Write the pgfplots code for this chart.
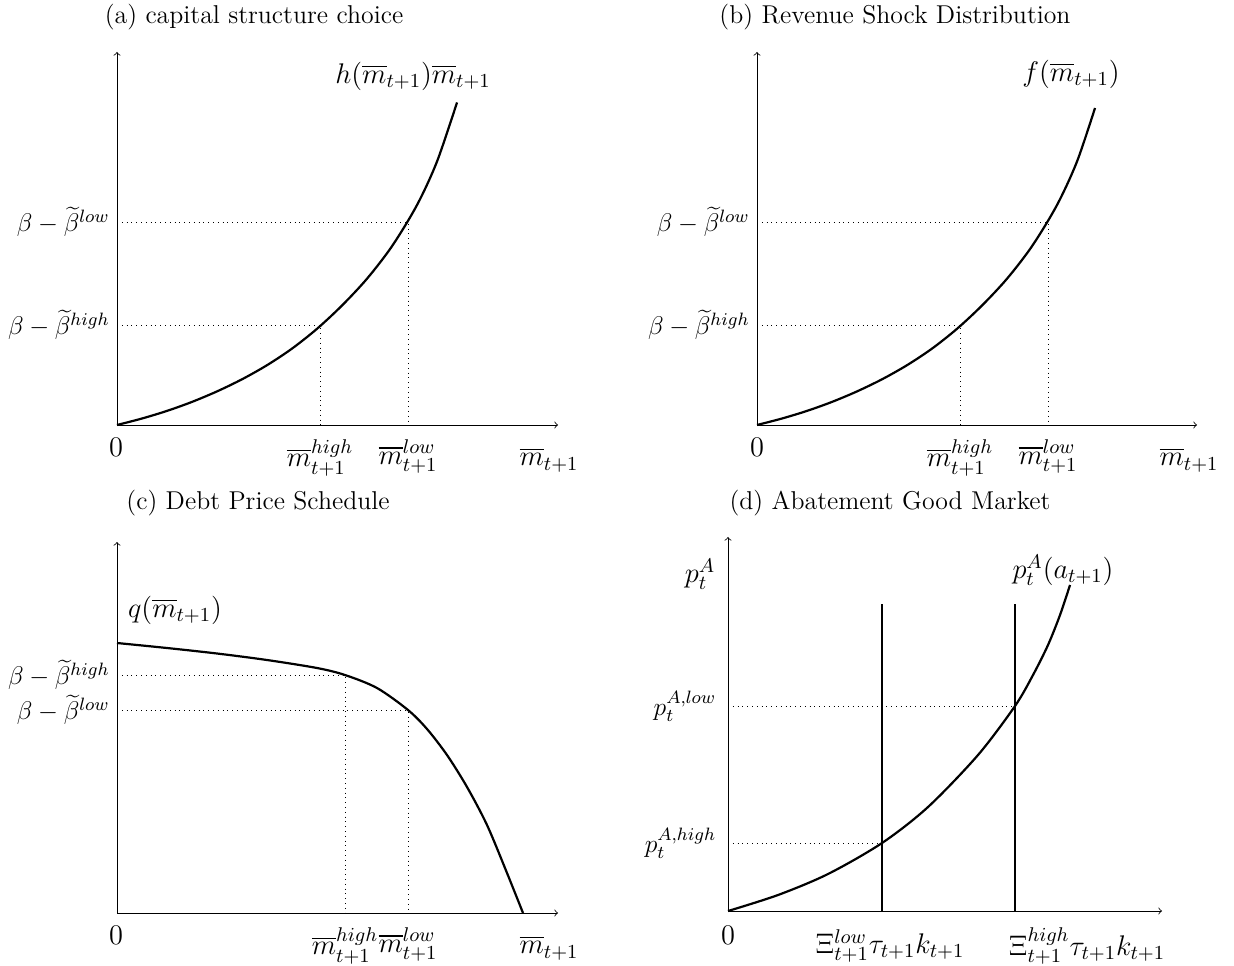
\RequirePackage{fix-cm}
\documentclass[border=0pt]{standalone}
\usepackage{amsmath}
\usepackage{pgfplots}
\pgfplotsset{compat=1.18}
\newcommand{\lblfont}{\fontsize{14.2}{17}\selectfont}
\newcommand{\tickfont}{\fontsize{12.8}{15}\selectfont}
\newcommand{\ttlfont}{\fontsize{12.9}{15}\selectfont}
\pgfplotsset{
  panel/.style={scale only axis, axis lines=left,
    axis line style={line width=0.4pt, ->},
    xmin=0, ymin=0, clip=false, major tick length=0pt,
    xticklabel style={font=\lblfont, anchor=north, inner sep=0pt, yshift=-7pt},
    yticklabel style={font=\tickfont, anchor=east, inner sep=0pt, xshift=-3.5pt},
    anchor=south west},
  curve/.style={black, line width=1.1pt, smooth, mark=none},
  vline/.style={black, line width=1.1pt, sharp plot, mark=none},
  guide/.style={black, dotted, line width=0.4pt, sharp plot, mark=none}
}
\tikzset{ttl/.style={anchor=center, inner sep=0pt, font=\ttlfont}}
\begin{document}
\begin{tikzpicture}
\useasboundingbox (0,0) rectangle (617pt,482.5pt);
% (a)
\begin{axis}[panel, at={(58.5pt,270pt)}, width=220.5pt, height=186.5pt,
  xmax=441, ymax=373,
  xtick={203,291}, xticklabels={$\overline{m}_{t+1}^{high}$, $\overline{m}_{t+1}^{low}$},
  ytick={100,203}, yticklabels={$\beta-\widetilde{\beta}^{high}$, $\beta-\widetilde{\beta}^{low}$}]
\addplot[guide] coordinates {(0,100) (203,100) (203,0)};
\addplot[guide] coordinates {(0,203) (291,203) (291,0)};
\addplot[curve] coordinates {(0,0) (25,6.5) (50,14.1) (75,23.1) (100,33.6) (125,45.7) (150,59.8) (175,76.4) (200,96.2) (225,119.5) (250,146.3) (275,178.8) (300,220) (320,263.5) (340,322.5)};
\node[ttl] at (axis cs:137,408) {(a) capital structure choice};
\node[font=\lblfont] at (axis cs:-1,-22) {$0$};
\node[font=\lblfont] at (axis cs:432,-35) {$\overline{m}_{t+1}$};
\node[font=\lblfont] at (axis cs:296,349) {$h(\overline{m}_{t+1})\overline{m}_{t+1}$};
\end{axis}
% (b)
\begin{axis}[panel, at={(378.5pt,270pt)}, width=220pt, height=186.5pt,
  xmax=440, ymax=373,
  xtick={203,291}, xticklabels={$\overline{m}_{t+1}^{high}$, $\overline{m}_{t+1}^{low}$},
  ytick={100,203}, yticklabels={$\beta-\widetilde{\beta}^{high}$, $\beta-\widetilde{\beta}^{low}$}]
\addplot[guide] coordinates {(0,100) (203,100) (203,0)};
\addplot[guide] coordinates {(0,203) (291,203) (291,0)};
\addplot[curve] coordinates {(0,0) (25,6.5) (50,14.1) (75,23.1) (100,33.6) (125,45.7) (150,59.8) (175,76.4) (200,96.2) (225,119.5) (250,146.3) (275,178.8) (300,220) (320,263.5) (338,317)};
\node[ttl] at (axis cs:138,408) {(b) Revenue Shock Distribution};
\node[font=\lblfont] at (axis cs:0,-22) {$0$};
\node[font=\lblfont] at (axis cs:432,-35) {$\overline{m}_{t+1}$};
\node[font=\lblfont] at (axis cs:314,351) {$f(\overline{m}_{t+1})$};
\end{axis}
% (c)
\begin{axis}[panel, at={(58.5pt,26pt)}, width=220.5pt, height=185.5pt,
  xmax=441, ymax=371,
  xtick={228,291}, xticklabels={$\overline{m}_{t+1}^{high}$, $\overline{m}_{t+1}^{low}$},
  ytick={203,238}, yticklabels={$\beta-\widetilde{\beta}^{low}$, $\beta-\widetilde{\beta}^{high}$}]
\addplot[guide] coordinates {(0,238) (228,238) (228,0)};
\addplot[guide] coordinates {(0,203) (291,203) (291,0)};
\addplot[curve] coordinates {(0,270) (50,265) (100,259.5) (150,253) (200,245) (228,238) (260,225) (291,203) (310,184) (330,158) (350,126) (370,88) (390,40) (406,0)};
\node[ttl] at (axis cs:141,410) {(c) Debt Price Schedule};
\node[font=\lblfont] at (axis cs:-1,-22) {$0$};
\node[font=\lblfont] at (axis cs:432,-35) {$\overline{m}_{t+1}$};
\node[font=\lblfont] at (axis cs:58,303) {$q(\overline{m}_{t+1})$};
\end{axis}
% (d)
\begin{axis}[panel, at={(364pt,27pt)}, width=217pt, height=187pt,
  xmax=434, ymax=374,
  xtick=\empty,
  ytick={68,205}, yticklabels={$p_t^{A,high}$, $p_t^{A,low}$},
  yticklabel style={xshift=-2.25pt}]
\addplot[guide] coordinates {(0,68) (154,68)};
\addplot[guide] coordinates {(0,205) (287,205)};
\addplot[vline] coordinates {(154,0) (154,307)};
\addplot[vline] coordinates {(287,0) (287,307)};
\addplot[curve] coordinates {(0,0) (50,16) (100,37) (154,68) (200,104) (250,156) (287,205) (305,236) (320,266) (332,296) (342,326)};
\node[ttl] at (axis cs:162,408) {(d) Abatement Good Market};
\node[font=\lblfont] at (axis cs:0,-24) {$0$};
\node[font=\lblfont] at (axis cs:162,-35) {$\Xi_{t+1}^{low}\tau_{t+1}k_{t+1}$};
\node[font=\lblfont] at (axis cs:359,-35) {$\Xi_{t+1}^{high}\tau_{t+1}k_{t+1}$};
\node[font=\lblfont] at (axis cs:-28,337) {$p_t^A$};
\node[font=\lblfont] at (axis cs:335,341) {$p_t^A(a_{t+1})$};
\end{axis}
\end{tikzpicture}
\end{document}
